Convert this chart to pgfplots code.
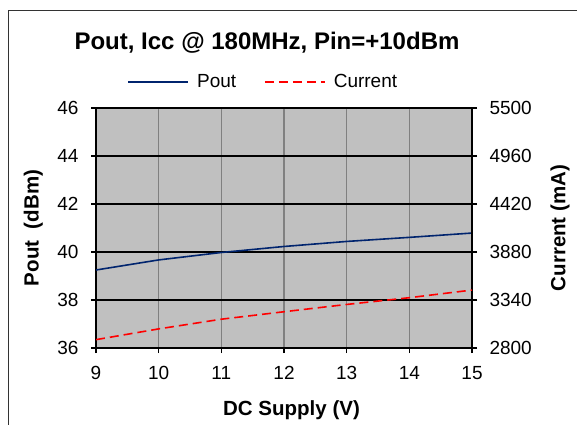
\documentclass[border=0pt]{standalone}
\usepackage{pgfplots}
\pgfplotsset{compat=1.18}
\usepackage{fontspec}
\setmainfont{Liberation Sans}

\definecolor{poutblue}{RGB}{0,36,110}
\definecolor{plotgray}{RGB}{192,192,192}
\definecolor{vgrid}{RGB}{128,128,128}

\pgfplotsset{
  common/.style={
    scale only axis,
    width=376pt, height=240pt,
    at={(96pt,76pt)}, anchor=south west,
    xmin=9, xmax=15,
    tick align=outside,
    major tick length=5pt,
    tick style={black, line width=1.2pt},
    ticklabel style={font=\fontsize{19}{19}\selectfont},
    /pgf/number format/assume math mode=true,
    /pgf/number format/1000 sep={},
    label style={font=\bfseries\fontsize{20.5}{20.5}\selectfont},
  }
}

\begin{document}
\begin{tikzpicture}[x=1pt,y=1pt]
\useasboundingbox (0,0) rectangle (577,424);
\draw[black!80, line width=0.8pt] (8,-2) -- (8,414) -- (580,414);

\begin{axis}[
  common,
  ymin=36, ymax=46,
  ytick={36,38,...,46},
  xtick={9,...,15},
  xtick pos=bottom,
  ytick pos=left,
  axis background/.style={fill=plotgray},
  axis line style={black, line width=1.5pt},
  xmajorgrids, ymajorgrids,
  x grid style={vgrid, line width=1.2pt},
  y grid style={black, line width=1.2pt},
  xlabel={DC Supply (V)},
  xlabel style={at={(rel axis cs:0.52,-0.258)}, anchor=center},
  ylabel={Pout\ \ (dBm)},
  ylabel style={at={(rel axis cs:-0.167,0.5)}, anchor=center, rotate=0},
  xticklabel style={yshift=-10pt},
  yticklabel style={xshift=-9pt},
]
\addplot[poutblue, line width=1.6pt] coordinates {
  (9,39.25) (10,39.67) (11,39.98) (12,40.23) (13,40.44) (14,40.61) (15,40.79)
};
\end{axis}

\begin{axis}[
  common,
  ymin=2800, ymax=5500,
  ytick={2800,3340,...,5500},
  axis x line=none,
  axis y line*=right,
  axis line style={black, line width=1.5pt},
  yticklabel style={xshift=9pt},
  ylabel={Current (mA)},
  ylabel style={at={(rel axis cs:1.234,0.5)}, anchor=center, rotate=0},
  legend columns=2,
  legend style={draw=none, fill=none,
    at={(rel axis cs:0.445,1.108)}, anchor=center,
    font=\fontsize{19}{19}\selectfont,
    /tikz/every odd column/.append style={column sep=6pt},
    /tikz/every even column/.append style={column sep=26pt}},
  legend image code/.code={\draw[#1] (0pt,0pt) -- (60pt,0pt);},
]
\addlegendimage{poutblue, line width=1.6pt}
\addlegendentry{Pout}
\addplot[red, line width=1.6pt, dash pattern=on 9pt off 5pt] coordinates {
  (9,2894) (10,3015) (11,3124) (12,3208) (13,3290) (14,3366) (15,3452)
};
\addlegendentry{Current}
\end{axis}

\node[font=\bfseries\fontsize{24}{24}\selectfont] at (267,381) {Pout, Icc @ 180MHz, Pin=+10dBm};
\end{tikzpicture}
\end{document}
